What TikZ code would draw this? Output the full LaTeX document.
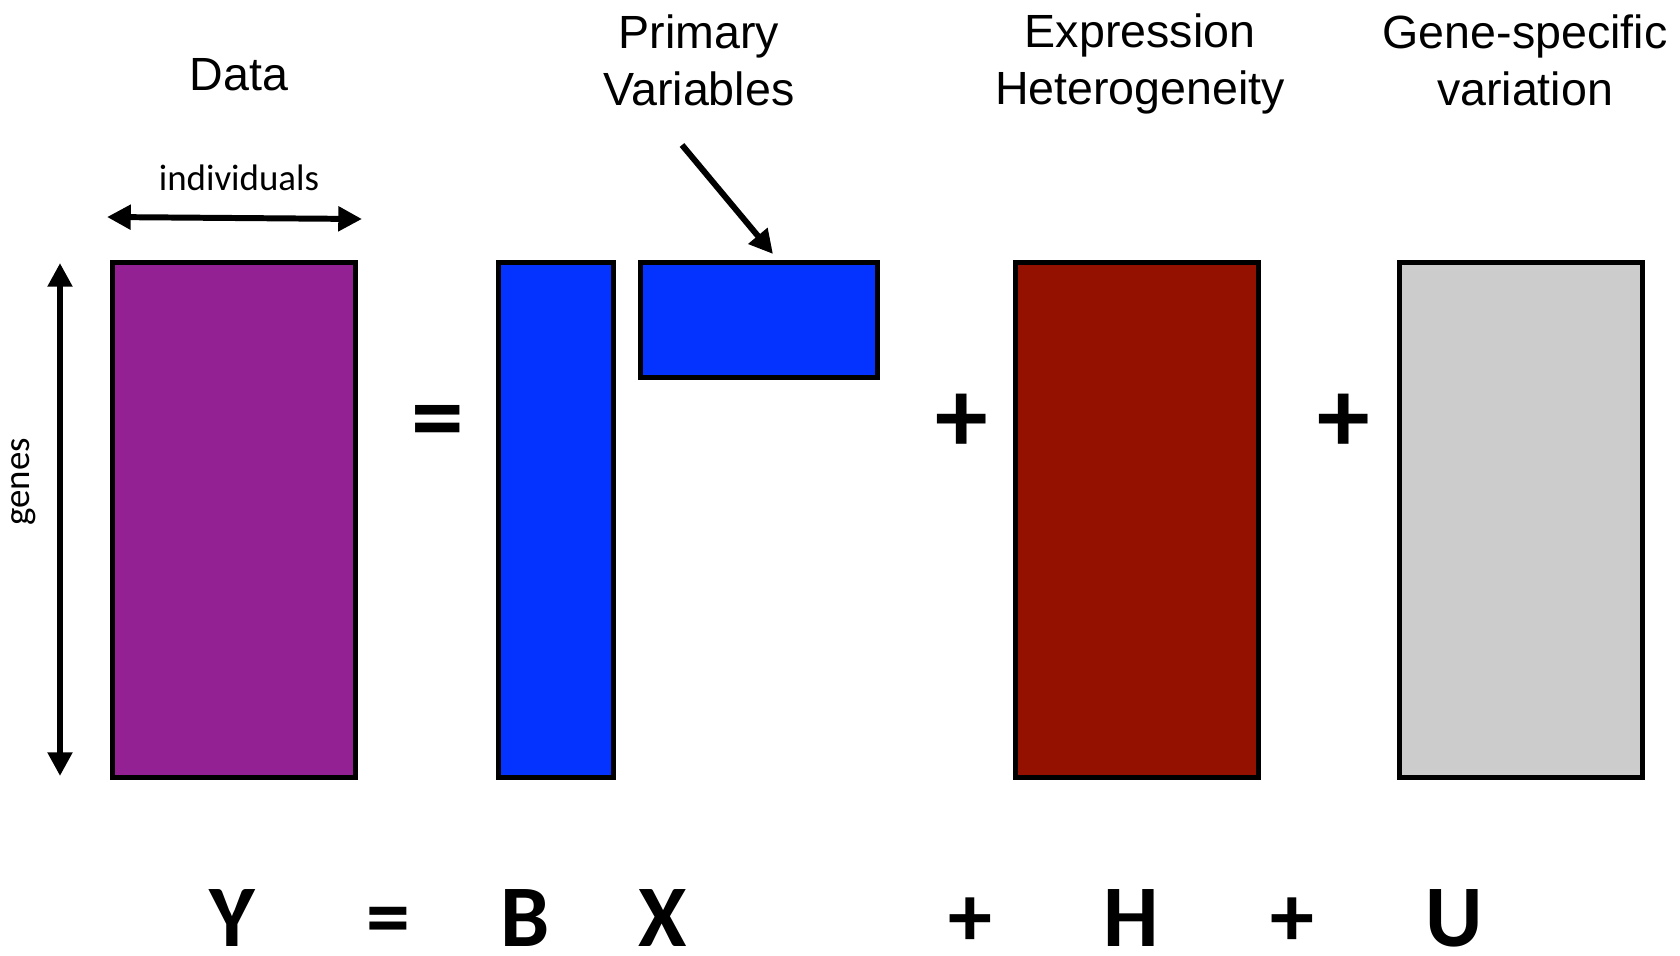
\documentclass[tikz,border=0pt]{standalone}
\usepackage{fontspec}
\setmainfont{Liberation Sans}
\newfontfamily\calib{Carlito}
\usetikzlibrary{arrows.meta, positioning}
\definecolor{plum}     {HTML}{942193}
\definecolor{blueberry}{HTML}{0433FF}
\definecolor{cayenne}  {HTML}{941100}
\definecolor{silver}   {HTML}{CCCCCC}

\begin{document}
\begin{tikzpicture}[
    matrixbox/.style={draw=black, line width=2.85pt, minimum width=4.86cm,
                      minimum height=10.3cm, inner sep=0pt},
    title/.style={align=center, font=\fontsize{26.5}{32.5}\selectfont},
    axislabel/.style={font=\calib\fontsize{21}{25}\selectfont},
    symbol/.style={font=\calib\bfseries\fontsize{60}{60}\selectfont},
    term/.style={anchor=base, inner sep=0pt, text depth=0pt,
                 font=\calib\bfseries\fontsize{50}{50}\selectfont},
    dimarrow/.style={{Triangle[length=13.5pt, width=13.5pt]}-{Triangle[length=13.5pt, width=13.5pt]},
                     line width=3.4pt}
  ]
    \useasboundingbox (0,0) rectangle (33.6,-19.1);

    % the matrices
    \node[matrixbox, fill=plum] (Y) at (4.68,-10.4) {};
    \node[matrixbox, fill=blueberry, minimum width=2.3cm] (B) at (11.12,-10.4) {};
    \node[matrixbox, fill=blueberry, minimum width=4.74cm, minimum height=2.3cm] (X) at (15.18,-6.4) {};
    \node[matrixbox, fill=cayenne] (H) at (22.74,-10.4) {};
    \node[matrixbox, fill=silver] (U) at (30.41,-10.4) {};

    \node[symbol] (eq) at (8.76,-8.58) {=};
    \node[symbol] (plusH) at (19.24,-8.47) {+};
    \node[symbol] (plusU) at (26.88,-8.47) {+};

    % headings
    \node[title] (tData) at (4.78,-1.5) {Data};
    \node[title] (tPrim) at (13.98,-1.21) {Primary\\Variables};
    \node[title] (tExpr) at (22.8,-1.28) {Expression\\Heterogeneity};
    \node[title] (tGene) at (30.5,-1.21) {Gene-specific\\variation};

    % dimensions
    \node[axislabel] (ind) at (4.78,-3.55) {individuals};
    \coordinate (indL) at (2.14,-4.34);
    \coordinate (indR) at (7.24,-4.38);
    \draw[dimarrow] (indL) -- (indR);

    \node[axislabel, rotate=90] (genes) at (0.48,-9.64) {genes};
    \coordinate (genT) at (1.2,-5.26);
    \coordinate (genB) at (1.2,-15.52);
    \draw[dimarrow] (genT) -- (genB);

    \coordinate (pvTail) at (13.64,-2.9);
    \coordinate (pvTip) at (15.46,-5.08);
    \draw[-{Triangle[length=13.5pt, width=13.5pt]}, line width=3.4pt] (pvTail) -- (pvTip);

    % the equation
    \node[term] (lY) at (4.64,-18.93) {Y};
    \node[term] (lEq) at (7.76,-18.93) {=};
    \node[term] (lB) at (10.5,-18.93) {B};
    \node[term] (lX) at (13.26,-18.93) {X};
    \node[term] (lP1) at (19.4,-18.93) {+};
    \node[term] (lH) at (22.62,-18.93) {H};
    \node[term] (lP2) at (25.84,-18.93) {+};
    \node[term] (lU) at (29.08,-18.93) {U};
\end{tikzpicture}
\end{document}
